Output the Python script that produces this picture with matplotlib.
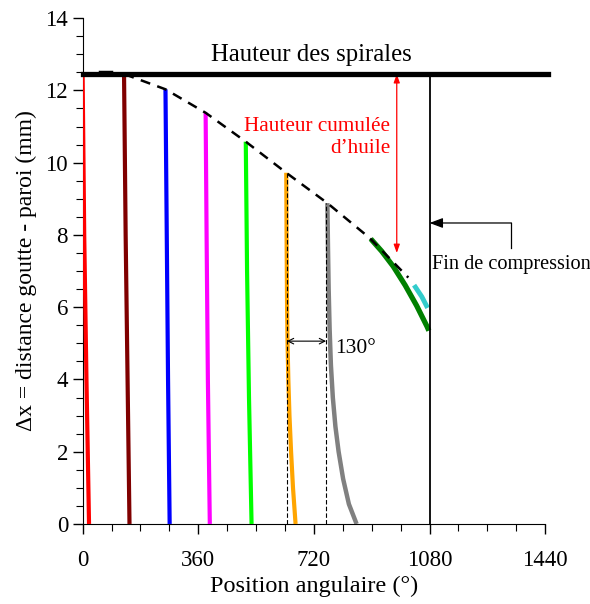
import numpy as np
import matplotlib
matplotlib.use("Agg")
import matplotlib.pyplot as plt

plt.rcParams['font.family'] = ['Liberation Serif', 'DejaVu Serif']

# droplet trajectories (angle in deg, distance in mm)
red_x = [0, 5, 12, 20]
red_y = [12.45, 8, 4, 0]
brown_x = [129, 134, 140, 146]
brown_y = [12.45, 8, 4, 0]
blue_x = [258, 262, 266, 271]
blue_y = [12.03, 8, 4, 0]
magenta_x = [383, 386, 390, 396]
magenta_y = [11.38, 8, 4, 0]
lime_x = [508, 512, 518, 526]
lime_y = [10.58, 7, 3.5, 0]
orange_x = [634, 635, 636.5, 638, 640.5, 644, 649, 655, 663]
orange_y = [9.72, 8, 6, 5, 4, 3, 2, 1, 0]
grey_x = [762, 764, 766, 769, 773, 779, 787, 797, 811, 829, 853]
grey_y = [8.88, 7.6, 6.5, 5.4, 4.4, 3.5, 2.7, 2.0, 1.25, 0.55, 0]
dkgreen_x = [897, 931, 967, 1004, 1040, 1072, 1078]
dkgreen_y = [7.89, 7.55, 7.13, 6.61, 6.04, 5.47, 5.35]
cyan_x = [1032, 1056, 1074]
cyan_y = [6.61, 6.29, 5.98]

# cumulated oil height envelope
env_x = [130, 258, 383, 508, 634, 762, 893, 1014]
env_y = [12.45, 12.03, 11.38, 10.58, 9.72, 8.88, 7.92, 6.82]

spiral_h = 12.45
end_comp = 1080

fig = plt.figure(figsize=(5.9, 6.04), dpi=100)
ax = fig.add_axes([0.140, 0.1325, 0.784, 0.8375])

ax.plot([0, 1450], [spiral_h, spiral_h], color="black", lw=3.8, clip_on=False, zorder=5)
ax.plot([55, 88], [12.52, 12.52], color="black", lw=2.5, zorder=5)
ax.plot([end_comp, end_comp], [0, spiral_h], color="black", lw=1.3, zorder=4)

curves = [(red_x, red_y, "red", 3), (brown_x, brown_y, "#800000", 3),
          (blue_x, blue_y, "blue", 3), (magenta_x, magenta_y, "magenta", 3),
          (lime_x, lime_y, "lime", 3), (orange_x, orange_y, "orange", 3),
          (grey_x, grey_y, "grey", 3.2), (dkgreen_x, dkgreen_y, "green", 3.8),
          (cyan_x, cyan_y, "#33cccc", 3.5)]
for cx, cy, c, w in curves:
    ax.plot(cx, cy, color=c, lw=w, solid_capstyle="butt", solid_joinstyle="round", zorder=3)

ax.plot(env_x, env_y, color="black", lw=1.8, ls=(0, (4, 3)), zorder=6)

# thin dashed guides and 130 deg arrow
ax.plot([636, 636], [0, orange_y[0]], color="black", lw=0.8, ls=(0, (4, 2)), zorder=4)
ax.plot([758, 758], [0, grey_y[0]], color="black", lw=0.8, ls=(0, (4, 2)), zorder=4)
ax.annotate("", xy=(636, 5.06), xytext=(758, 5.06),
            arrowprops=dict(arrowstyle="<->", color="black", lw=0.8, shrinkA=0, shrinkB=0))
ax.text(785, 4.85, "130°", fontsize=15.5, ha="left", va="center")

# oil height arrow
ax.annotate("", xy=(978, 7.5), xytext=(978, spiral_h),
            arrowprops=dict(arrowstyle="<|-|>,head_length=0.5,head_width=0.18", color="red",
                            lw=0.9, shrinkA=0, shrinkB=0))
ax.text(958, 10.7, "Hauteur cumulée\nd’huile", color="red", fontsize=15.3,
        ha="right", va="center", multialignment="right", linespacing=1.2)

ax.text(711, 12.98, "Hauteur des spirales", fontsize=17.8, ha="center", va="center")

# end of compression
ax.plot([1335, 1335], [7.65, 8.33], color="black", lw=0.9, clip_on=False)
ax.annotate("", xy=(end_comp, 8.33), xytext=(1335, 8.33),
            arrowprops=dict(arrowstyle="-|>,head_length=0.8,head_width=0.3", color="black",
                            lw=0.9, shrinkA=0, shrinkB=0))
ax.text(1088, 7.17, "Fin de compression", fontsize=14.6, ha="left", va="center", clip_on=False)

ax.set_xlim(0, 1440)
ax.set_ylim(0, 14)
ax.set_xticks([0, 360, 720, 1080, 1440])
ax.set_xticks(np.arange(0, 1441, 90), minor=True)
ax.set_yticks(np.arange(0, 15, 2))
ax.set_yticks(np.arange(0, 14.1, 0.5), minor=True)
ax.tick_params(labelsize=16.5, direction="out", length=7, width=1)
ax.tick_params(which="minor", direction="out", length=5, width=0.8)
ax.tick_params(axis="x", pad=12)
ax.spines["top"].set_visible(False)
ax.spines["right"].set_visible(False)
ax.set_xlabel("Position angulaire (°)", fontsize=17.5, labelpad=3)
ax.set_ylabel("Δx = distance goutte - paroi (mm)", fontsize=17, labelpad=6)

fig.savefig("out.png", dpi=100)
